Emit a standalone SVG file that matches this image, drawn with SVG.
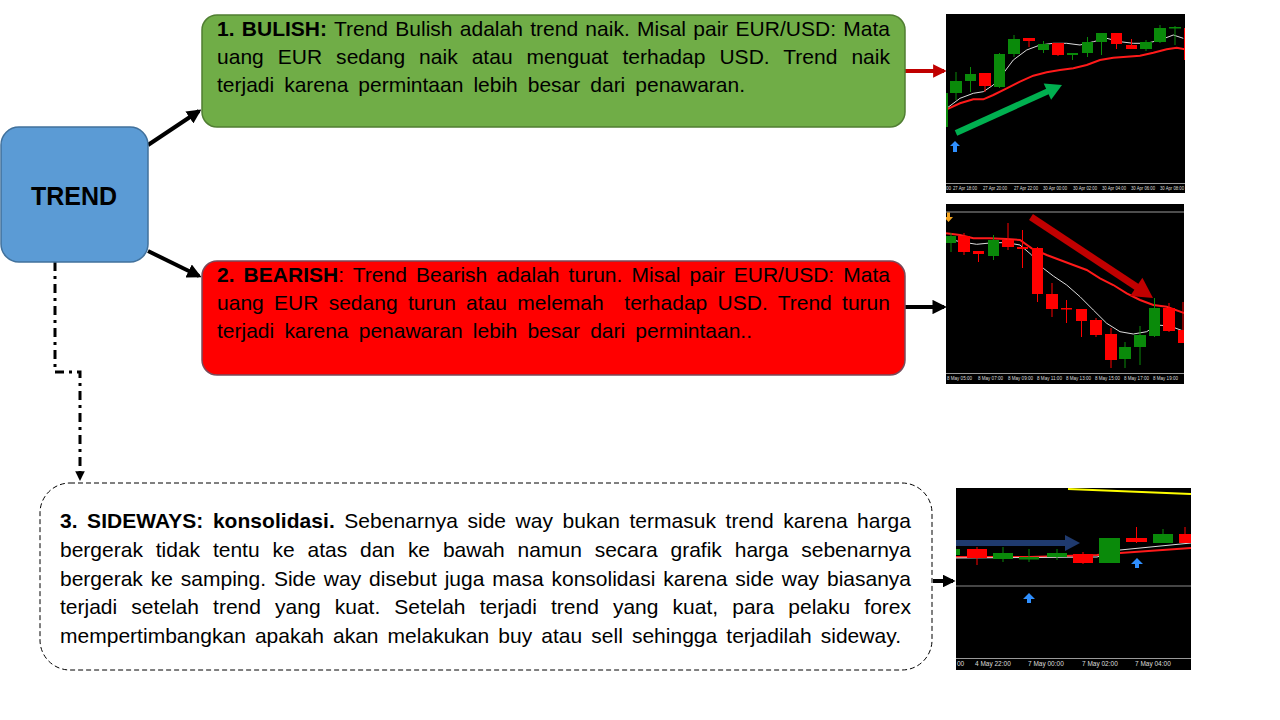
<svg xmlns="http://www.w3.org/2000/svg" width="1280" height="720" viewBox="0 0 1280 720">
<style>
.t{font-family:"Liberation Sans","Noto Sans",sans-serif;font-size:21px;fill:#000}
.b{font-weight:bold}
.ax{font-family:"Liberation Sans",sans-serif;font-size:4.6px;fill:#ddd}
.ax3{font-family:"Liberation Sans",sans-serif;font-size:6.5px;fill:#ddd}
.g{fill:#0A8A0A}
.r{fill:#FF0000}
.gw{stroke:#0A8A0A;stroke-width:1}
.rw{stroke:#FF0000;stroke-width:1}
.ma{fill:none;stroke:#FF1A1A;stroke-width:2}
.mw{fill:none;stroke:#DDDDDD;stroke-width:1}
.conn{fill:none;stroke:#000;stroke-width:4}
.bl{fill:#2F8FFF}
</style>
<defs>
<marker id="ahk" viewBox="0 0 10 10" refX="8" refY="5" markerWidth="3.6" markerHeight="3.6" orient="auto" markerUnits="strokeWidth"><path d="M0,0 L10,5 L0,10 z" fill="#000"/></marker>
<marker id="ahr" viewBox="0 0 10 10" refX="8" refY="5" markerWidth="3.4" markerHeight="3.4" orient="auto" markerUnits="strokeWidth"><path d="M0,0 L10,5 L0,10 z" fill="#C00000"/></marker>
<marker id="ahs" viewBox="0 0 10 10" refX="8" refY="5" markerWidth="3.2" markerHeight="3.2" orient="auto" markerUnits="strokeWidth"><path d="M0,0 L10,5 L0,10 z" fill="#000"/></marker>
<clipPath id="c1"><rect x="946" y="14" width="239" height="179"/></clipPath>
<clipPath id="c2"><rect x="946" y="204" width="238" height="180"/></clipPath>
<clipPath id="c3"><rect x="956" y="488" width="235" height="182"/></clipPath>
</defs>
<rect width="1280" height="720" fill="#fff"/>

<g id="connectors">
<line class="conn" x1="148" y1="145" x2="199" y2="111" marker-end="url(#ahk)"/>
<line class="conn" x1="148" y1="251" x2="199" y2="276" marker-end="url(#ahk)"/>
<path d="M55,262 V372 H80 V479" fill="none" stroke="#000" stroke-width="3" stroke-dasharray="9 5 3 5" marker-end="url(#ahs)"/>
<line x1="905" y1="71" x2="944" y2="71" stroke="#C00000" stroke-width="4" marker-end="url(#ahr)"/>
<line class="conn" x1="905" y1="307" x2="944" y2="307" marker-end="url(#ahk)"/>
<line class="conn" x1="933" y1="581" x2="953" y2="581" marker-end="url(#ahs)"/>
</g>

<g id="trend">
<rect x="1" y="127" width="147" height="135" rx="18" fill="#5B9BD5" stroke="#41719C" stroke-width="1.5"/>
<text x="74" y="205" text-anchor="middle" font-family="Liberation Sans, sans-serif" font-size="25" font-weight="bold" fill="#000">TREND</text>
</g>

<g id="bulish">
<rect x="202" y="15" width="703" height="112" rx="15" fill="#70AD47" stroke="#507E32" stroke-width="1.5"/>
<text class="t" x="217" y="36" style="word-spacing:1.4px" textLength="673" lengthAdjust="spacing"><tspan class="b">1. BULISH:</tspan> Trend Bulish adalah trend naik. Misal pair EUR/USD: Mata</text>
<text class="t" x="217" y="64" style="word-spacing:8.1px" textLength="673" lengthAdjust="spacing">uang EUR sedang naik atau menguat terhadap USD. Trend naik</text>
<text class="t" x="217" y="92" style="word-spacing:4.2px" textLength="528" lengthAdjust="spacing">terjadi karena permintaan lebih besar dari penawaran.</text>
</g>

<g id="bearish">
<rect x="202" y="261" width="703" height="114" rx="15" fill="#FF0000" stroke="#7A4A5A" stroke-width="1.5"/>
<text class="t" x="217" y="282" style="word-spacing:3.2px" textLength="673" lengthAdjust="spacing"><tspan class="b">2. BEARISH</tspan>: Trend Bearish adalah turun. Misal pair EUR/USD: Mata</text>
<text class="t" x="217" y="310" style="word-spacing:4.4px" textLength="673" lengthAdjust="spacing">uang EUR sedang turun atau melemah&#160; terhadap USD. Trend turun</text>
<text class="t" x="217" y="338" style="word-spacing:4.4px" textLength="535" lengthAdjust="spacing">terjadi karena penawaran lebih besar dari permintaan..</text>
</g>

<g id="sideways">
<rect x="40" y="483" width="892" height="187" rx="30" fill="#fff" stroke="#000" stroke-width="1" stroke-dasharray="5 3"/>
<text class="t" x="60" y="528" style="word-spacing:3.6px" textLength="851" lengthAdjust="spacing"><tspan class="b">3. SIDEWAYS: konsolidasi.</tspan> Sebenarnya side way bukan termasuk trend karena harga</text>
<text class="t" x="60" y="557" style="word-spacing:7px" textLength="851" lengthAdjust="spacing">bergerak tidak tentu ke atas dan ke bawah namun secara grafik harga sebenarnya</text>
<text class="t" x="60" y="586" style="word-spacing:2.1px" textLength="851" lengthAdjust="spacing">bergerak ke samping. Side way disebut juga masa konsolidasi karena side way biasanya</text>
<text class="t" x="60" y="614" style="word-spacing:8.3px" textLength="851" lengthAdjust="spacing">terjadi setelah trend yang kuat. Setelah terjadi trend yang kuat, para pelaku forex</text>
<text class="t" x="60" y="643" style="word-spacing:3.2px" textLength="841" lengthAdjust="spacing">mempertimbangkan apakah akan melakukan buy atau sell sehingga terjadilah sideway.</text>
</g>

<g id="chart-bulish">
<rect x="946" y="14" width="239" height="179" fill="#000"/>
<g clip-path="url(#c1)">
<polyline class="mw" points="946.7,108.3 960,98.3 973.3,93.3 983.3,91.7 993.3,85 1003.3,73.3 1013.3,60 1026.7,50 1040,45 1053.3,43.3 1066.7,43.3 1080,45 1093.3,41.7 1106.7,38.3 1120,41.7 1133.3,43.3 1146.7,43.3 1160,40 1173.3,35 1183.3,38.3"/>
<polyline class="ma" points="946.7,109.3 960,103.3 973.3,99.3 983.3,99.3 993.3,95 1006.7,88.3 1020,81.7 1033.3,75.7 1046.7,72.3 1060,70 1073.3,68.3 1086.7,65 1100,60 1113.3,57.7 1126.7,56.7 1140,55.7 1153.3,52.7 1166.7,49.3 1176.7,47.7 1185,49.3"/>
<rect class="g" x="946" y="93" width="2" height="34"/>
<line class="gw" x1="956" y1="72" x2="956" y2="100"/><rect class="g" x="950" y="81" width="12" height="12"/>
<line class="gw" x1="970.5" y1="67" x2="970.5" y2="92"/><rect class="g" x="965" y="74" width="11" height="7"/>
<line class="rw" x1="985" y1="73" x2="985" y2="92"/><rect class="r" x="979" y="73" width="12" height="13"/>
<line class="gw" x1="999.5" y1="53" x2="999.5" y2="88"/><rect class="g" x="994" y="54" width="11" height="33"/>
<line class="gw" x1="1014" y1="35" x2="1014" y2="57"/><rect class="g" x="1008" y="39" width="12" height="15"/>
<line class="rw" x1="1029" y1="38" x2="1029" y2="47"/><rect class="r" x="1023" y="38" width="12" height="3"/>
<line class="gw" x1="1043.5" y1="41" x2="1043.5" y2="53"/><rect class="g" x="1038" y="44" width="11" height="6"/>
<line class="rw" x1="1058" y1="43" x2="1058" y2="56"/><rect class="r" x="1052" y="43" width="12" height="12"/>
<line class="gw" x1="1072.5" y1="53" x2="1072.5" y2="60"/><rect class="g" x="1067" y="53" width="11" height="2"/>
<line class="gw" x1="1087.5" y1="37" x2="1087.5" y2="57"/><rect class="g" x="1082" y="42" width="11" height="11"/>
<line class="gw" x1="1101.5" y1="33" x2="1101.5" y2="55"/><rect class="g" x="1096" y="33" width="11" height="9"/>
<line class="rw" x1="1116.5" y1="33" x2="1116.5" y2="49"/><rect class="r" x="1111" y="33" width="11" height="11"/>
<line class="rw" x1="1131.5" y1="39" x2="1131.5" y2="49"/><rect class="r" x="1126" y="45" width="11" height="4"/>
<line class="gw" x1="1146" y1="40" x2="1146" y2="51"/><rect class="g" x="1140" y="42" width="12" height="7"/>
<line class="gw" x1="1160" y1="25" x2="1160" y2="43"/><rect class="g" x="1154" y="28" width="12" height="14"/>
<line class="gw" x1="1175" y1="26" x2="1175" y2="45"/><rect class="g" x="1169" y="27" width="12" height="1.5"/>
<rect class="r" x="1184" y="28" width="4" height="32"/>
<line x1="956" y1="133" x2="1048" y2="91.2" stroke="#00B050" stroke-width="6"/>
<polygon points="1062,85 1051.1,99.8 1043.7,83.4" fill="#00B050"/>
<path class="bl" d="M955,141 L960,146 L957,146 L957,152 L953,152 L953,146 L950,146 Z"/>
<line x1="946" y1="183.5" x2="1185" y2="183.5" stroke="#999" stroke-width="1"/>
<text class="ax" x="946" y="190">00</text>
<text class="ax" x="953" y="190" textLength="24" lengthAdjust="spacingAndGlyphs">27 Apr 18:00</text>
<text class="ax" x="983" y="190" textLength="24" lengthAdjust="spacingAndGlyphs">27 Apr 20:00</text>
<text class="ax" x="1014" y="190" textLength="24" lengthAdjust="spacingAndGlyphs">27 Apr 22:00</text>
<text class="ax" x="1043" y="190" textLength="24" lengthAdjust="spacingAndGlyphs">30 Apr 00:00</text>
<text class="ax" x="1073" y="190" textLength="24" lengthAdjust="spacingAndGlyphs">30 Apr 02:00</text>
<text class="ax" x="1102" y="190" textLength="24" lengthAdjust="spacingAndGlyphs">30 Apr 04:00</text>
<text class="ax" x="1131" y="190" textLength="24" lengthAdjust="spacingAndGlyphs">30 Apr 06:00</text>
<text class="ax" x="1160" y="190" textLength="24" lengthAdjust="spacingAndGlyphs">30 Apr 08:00</text>
</g>
</g>

<g id="chart-bearish">
<rect x="946" y="204" width="238" height="180" fill="#000"/>
<g clip-path="url(#c2)">
<line x1="946" y1="212" x2="1184" y2="212" stroke="#9A9A9A" stroke-width="1"/>
<polyline class="mw" points="946,238.3 960,241.7 976.7,244.3 993.3,242.7 1006.7,242.7 1020,245 1031.7,255 1043.3,268.3 1053.3,276 1066.7,285 1080,296.7 1093.3,310 1106.7,323.3 1120,331.7 1133.3,334 1146.7,331.7 1156.7,325 1170,326 1185,331.7"/>
<polyline class="ma" points="946,233.3 960,235 973.3,238.3 990,238.3 1006.7,239 1020,240 1031.7,248.3 1046.7,255 1060,260 1073.3,265 1086.7,270 1100,278.3 1113.3,285 1126.7,293.3 1140,300 1153.3,305 1166.7,306.7 1185,313.3"/>
<line class="gw" x1="951" y1="233" x2="951" y2="252"/><rect class="g" x="946" y="236" width="10" height="7"/>
<line class="rw" x1="964" y1="233" x2="964" y2="255"/><rect class="r" x="958" y="236" width="12" height="16"/>
<line class="rw" x1="978.5" y1="251" x2="978.5" y2="262"/><rect class="r" x="973" y="251" width="11" height="3"/>
<line class="gw" x1="993.5" y1="235" x2="993.5" y2="260"/><rect class="g" x="988" y="240" width="11" height="16"/>
<line class="rw" x1="1008" y1="223" x2="1008" y2="250"/><rect class="r" x="1002" y="240" width="12" height="7"/>
<line class="rw" x1="1022.5" y1="230" x2="1022.5" y2="268"/><rect class="r" x="1017" y="247" width="11" height="2"/>
<line class="rw" x1="1037.5" y1="247" x2="1037.5" y2="302"/><rect class="r" x="1032" y="248" width="11" height="46"/>
<line class="rw" x1="1052" y1="283" x2="1052" y2="317"/><rect class="r" x="1046" y="294" width="12" height="15"/>
<line class="rw" x1="1066.5" y1="300" x2="1066.5" y2="323"/><rect class="r" x="1061" y="308" width="11" height="1.5"/>
<line class="rw" x1="1081.5" y1="309" x2="1081.5" y2="337"/><rect class="r" x="1076" y="309" width="11" height="12"/>
<line class="rw" x1="1096" y1="318" x2="1096" y2="337"/><rect class="r" x="1090" y="320" width="12" height="15"/>
<line class="rw" x1="1111" y1="328" x2="1111" y2="368"/><rect class="r" x="1105" y="334" width="12" height="26"/>
<line class="gw" x1="1125" y1="342" x2="1125" y2="368"/><rect class="g" x="1119" y="347" width="12" height="12"/>
<line class="gw" x1="1140" y1="326" x2="1140" y2="365"/><rect class="g" x="1134" y="335" width="12" height="12"/>
<line class="gw" x1="1154.5" y1="298" x2="1154.5" y2="337"/><rect class="g" x="1149" y="308" width="11" height="28"/>
<line class="rw" x1="1169" y1="303" x2="1169" y2="332"/><rect class="r" x="1163" y="308" width="12" height="23"/>
<line class="rw" x1="1183" y1="302" x2="1183" y2="343"/><rect class="r" x="1178" y="330" width="8" height="13"/>
<line x1="1031" y1="217" x2="1137.5" y2="287.5" stroke="#C00000" stroke-width="7"/>
<polygon points="1153,298 1130.2,296.1 1142.4,277.7" fill="#C00000"/>
<path d="M948.5,222 L944,217 L947,217 L947,212.5 L950,212.5 L950,217 L953,217 Z" fill="#F5A623"/>
<line x1="946" y1="373.5" x2="1184" y2="373.5" stroke="#999" stroke-width="1"/>
<text class="ax" x="947" y="380" textLength="25" lengthAdjust="spacingAndGlyphs">8 May 05:00</text>
<text class="ax" x="978" y="380" textLength="25" lengthAdjust="spacingAndGlyphs">8 May 07:00</text>
<text class="ax" x="1008" y="380" textLength="25" lengthAdjust="spacingAndGlyphs">8 May 09:00</text>
<text class="ax" x="1037" y="380" textLength="25" lengthAdjust="spacingAndGlyphs">8 May 11:00</text>
<text class="ax" x="1066" y="380" textLength="25" lengthAdjust="spacingAndGlyphs">8 May 13:00</text>
<text class="ax" x="1095" y="380" textLength="25" lengthAdjust="spacingAndGlyphs">8 May 15:00</text>
<text class="ax" x="1124" y="380" textLength="25" lengthAdjust="spacingAndGlyphs">8 May 17:00</text>
<text class="ax" x="1153" y="380" textLength="25" lengthAdjust="spacingAndGlyphs">8 May 19:00</text>
</g>
</g>

<g id="chart-sideways">
<rect x="956" y="488" width="235" height="182" fill="#000"/>
<g clip-path="url(#c3)">
<line x1="1068" y1="489" x2="1191" y2="494" stroke="#FFFF00" stroke-width="2"/>
<line x1="956" y1="586" x2="1191" y2="586" stroke="#8A8A8A" stroke-width="1"/>
<polyline class="ma" points="956,557 1030,557 1097,555 1120,553 1191,548"/>
<polyline class="mw" points="956,558 1097,557 1120,550 1191,543"/>
<rect class="g" x="956" y="549" width="4" height="6"/>
<line class="rw" x1="977" y1="547" x2="977" y2="565"/><rect class="r" x="967" y="549" width="20" height="9"/>
<line class="gw" x1="1003" y1="547" x2="1003" y2="562"/><rect class="g" x="993" y="553" width="20" height="6"/>
<line class="gw" x1="1029" y1="549" x2="1029" y2="562"/><rect class="g" x="1019" y="557" width="20" height="2.5"/>
<line class="gw" x1="1057" y1="549" x2="1057" y2="560"/><rect class="g" x="1047" y="553" width="20" height="4"/>
<line class="rw" x1="1083" y1="552" x2="1083" y2="564"/><rect class="r" x="1073" y="554" width="20" height="9"/>
<rect class="g" x="1099" y="538" width="21" height="25"/>
<line class="rw" x1="1136.5" y1="527" x2="1136.5" y2="543"/><rect class="r" x="1126" y="538" width="21" height="4"/>
<line class="gw" x1="1163" y1="529" x2="1163" y2="543"/><rect class="g" x="1153" y="534" width="20" height="9"/>
<line class="rw" x1="1185" y1="527" x2="1185" y2="543"/><rect class="r" x="1179" y="534" width="12" height="9"/>
<line x1="956" y1="543" x2="1067" y2="543" stroke="#1F3A6E" stroke-width="6"/>
<polygon points="1065,535 1080,543 1065,551" fill="#1F3A6E"/>
<path class="bl" d="M1137,558 L1143,564 L1139,564 L1139,568 L1135,568 L1135,564 L1131,564 Z"/>
<path class="bl" d="M1029,593 L1035,599 L1031,599 L1031,603 L1027,603 L1027,599 L1023,599 Z"/>
<line x1="956" y1="658.5" x2="1191" y2="658.5" stroke="#999" stroke-width="1"/>
<text class="ax3" x="957" y="666">00</text>
<text class="ax3" x="975" y="666">4 May 22:00</text>
<text class="ax3" x="1028" y="666">7 May 00:00</text>
<text class="ax3" x="1082" y="666">7 May 02:00</text>
<text class="ax3" x="1135" y="666">7 May 04:00</text>
</g>
</g>
</svg>
